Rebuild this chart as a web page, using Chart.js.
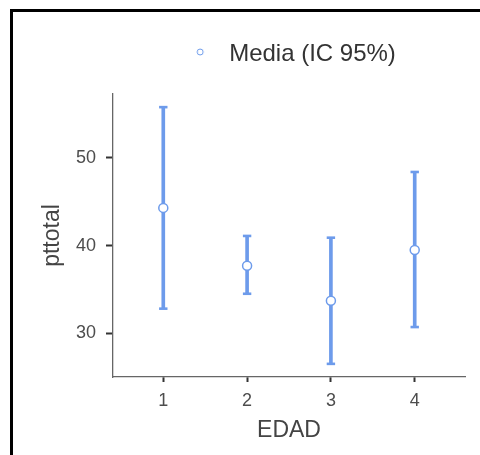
<!DOCTYPE html>
<html>
<head>
<meta charset="utf-8">
<script src="https://cdn.jsdelivr.net/npm/chart.js@4.4.1/dist/chart.umd.min.js"></script>
<style>
  body { margin: 0; background: #fff; }
  #wrap { position: relative; width: 480px; height: 455px; overflow: hidden; }
  #frame { position: absolute; left: 10px; top: 9px; width: 500px; height: 470px;
           border-left: 3px solid #000; border-top: 3px solid #000; }
  #c { position: absolute; left: 0; top: 0; }
</style>
</head>
<body>
<div id="wrap">
  <div id="frame"></div>
  <canvas id="c" width="480" height="455"></canvas>
</div>
<script>
const groups = [1, 2, 3, 4];          // EDAD
const means = [44.3, 37.7, 33.7, 39.5]; // media de pttotal
const lower = [32.8, 34.5, 26.5, 30.7]; // IC 95% inferior
const upper = [55.8, 41.1, 40.9, 48.4]; // IC 95% superior
const xTicks = [1, 2, 3, 4];
const yTicks = [30, 40, 50];

const blue = "#6d9beb";
const fontFam = "'Liberation Sans', Arial, sans-serif";
const legendText = "Media (IC 95%)";
const legendFont = 24;

// legend marker: leave room so the text starts where the reference has it
const tmp = document.createElement("canvas").getContext("2d");
tmp.font = legendFont + "px " + fontFam;
const tw = tmp.measureText(legendText).width;
const legendCenter = (0 + 465) / 2;
const textStart = 229;
const bw = Math.round(2 * (textStart - legendCenter) + tw - legendFont / 2);
const marker = document.createElement("canvas");
marker.width = bw;
marker.height = 12;
const mctx = marker.getContext("2d");
mctx.beginPath();
mctx.arc(bw - 29 + legendFont / 2, 4, 3, 0, Math.PI * 2);
mctx.fillStyle = "#fff";
mctx.fill();
mctx.strokeStyle = blue;
mctx.lineWidth = 1;
mctx.stroke();

new Chart("c", {
  type: "bar",
  data: {
    datasets: [{
      type: "scatter",
      label: legendText,
      data: groups.map((g, i) => ({x: g, y: means[i]})),
      pointStyle: "circle",
      pointRadius: 4.5,
      pointBackgroundColor: "#fff",
      pointBorderColor: blue,
      pointBorderWidth: 1.5
    }, {
      type: "scatter",
      label: "sup",
      data: groups.map((g, i) => ({x: g, y: upper[i]})),
      pointStyle: "line",
      pointRadius: 4.2,
      pointBorderColor: blue,
      pointBorderWidth: 2.6
    }, {
      type: "scatter",
      label: "inf",
      data: groups.map((g, i) => ({x: g, y: lower[i]})),
      pointStyle: "line",
      pointRadius: 4.2,
      pointBorderColor: blue,
      pointBorderWidth: 2.6
    }, {
      label: "ic",
      data: groups.map((g, i) => ({x: g, y: [lower[i], upper[i]]})),
      backgroundColor: blue,
      barThickness: 3
    }]
  },
  options: {
    responsive: false,
    devicePixelRatio: 1,
    animation: false,
    layout: { padding: { left: 0, right: 15, top: 23, bottom: 0 } },
    plugins: {
      tooltip: { enabled: false },
      legend: {
        labels: {
          filter: item => item.datasetIndex === 0,
          usePointStyle: true,
          pointStyle: marker,
          pointStyleWidth: bw,
          padding: 19,
          color: "#333",
          font: { family: fontFam, size: legendFont }
        }
      },
      // empty spacer between legend and panel
      subtitle: { display: true, text: "", weight: 500, padding: 0,
                  font: { size: 15, lineHeight: 1.2 } }
    },
    scales: {
      x: {
        type: "linear",
        min: 0.4,
        max: 4.6,
        offset: false,
        afterBuildTicks: s => { s.ticks = xTicks.map(v => ({value: v})); },
        afterFit: s => { s.height = 78; },
        grid: { offset: false, drawOnChartArea: false, tickLength: 5, tickColor: "#333", tickWidth: 2 },
        border: { color: "#666", width: 1.3 },
        ticks: { padding: 8, color: "#4d4d4d", font: { family: fontFam, size: 18 } },
        title: { display: true, text: "EDAD", color: "#444", padding: { top: 0, bottom: 11 },
                 font: { family: fontFam, size: 23 } }
      },
      y: {
        min: 25,
        max: 57.3,
        afterBuildTicks: s => { s.ticks = yTicks.map(v => ({value: v})); },
        afterFit: s => { s.width = 113; },
        grid: { drawOnChartArea: false, tickLength: 7, tickColor: "#333", tickWidth: 2 },
        border: { color: "#666", width: 1.3 },
        ticks: { padding: 10, color: "#4d4d4d", font: { family: fontFam, size: 18 } },
        title: { display: true, text: "pttotal", color: "#444", padding: { top: 39, bottom: 0 },
                 font: { family: fontFam, size: 23 } }
      }
    }
  }
});
</script>
</body>
</html>
